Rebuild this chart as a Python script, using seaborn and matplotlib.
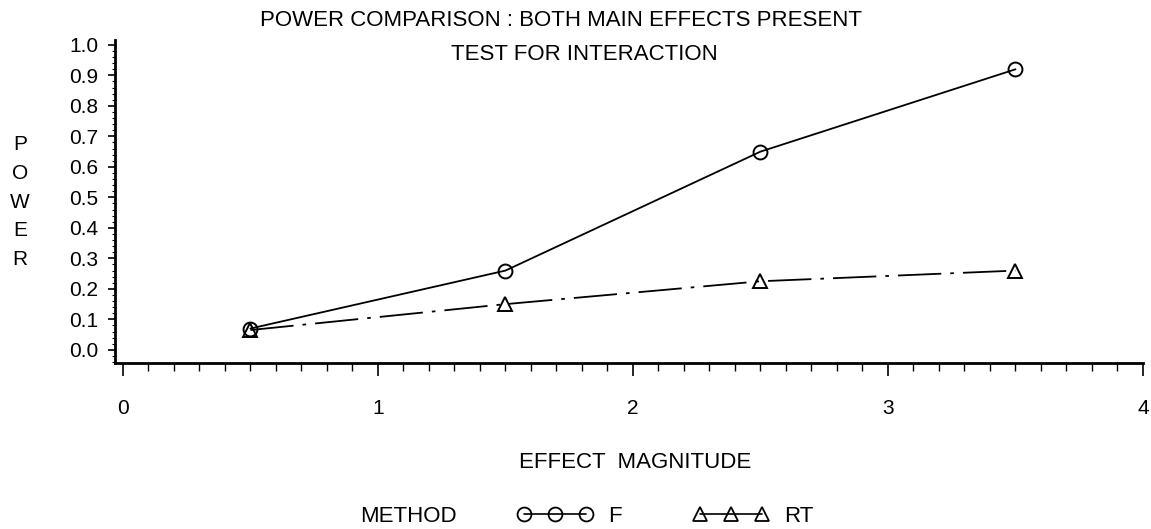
import matplotlib
matplotlib.use("Agg")
import matplotlib.pyplot as plt
from matplotlib.lines import Line2D
from matplotlib.ticker import MultipleLocator, FixedLocator
import numpy as np
import pandas as pd
import seaborn as sns

# ---- data ----
effect = [0.5, 1.5, 2.5, 3.5]
power_f = [0.07, 0.26, 0.65, 0.92]
power_rt = [0.065, 0.15, 0.225, 0.26]
methods = ["F", "RT"]
y_ticks = [0.0, 0.1, 0.2, 0.3, 0.4, 0.5, 0.6, 0.7, 0.8, 0.9, 1.0]
x_ticks = [0, 1, 2, 3, 4]

df = pd.DataFrame({
    "effect": effect * 2,
    "power": power_f + power_rt,
    "method": ["F"] * len(effect) + ["RT"] * len(effect),
})

sns.set_style("ticks")
plt.rcParams["font.family"] = ["Liberation Sans", "DejaVu Sans"]
plt.rcParams["text.color"] = "black"
plt.rcParams["axes.labelcolor"] = "black"
plt.rcParams["xtick.color"] = "black"
plt.rcParams["ytick.color"] = "black"

W, H = 1151, 529
fig = plt.figure(figsize=(W / 100, H / 100), dpi=100)
fig.patch.set_facecolor("white")

ax = fig.add_axes([115 / W, 166 / H, 1028 / W, 323 / H])
ax.set_facecolor("white")

rt_dash = (24, 5, 2, 5)
sns.lineplot(
    data=df, x="effect", y="power", style="method",
    markers={"F": "o", "RT": "^"},
    dashes={"F": "", "RT": rt_dash},
    color="black", linewidth=1.3, markersize=10,
    markerfacecolor="none", markeredgecolor="black", markeredgewidth=1.4,
    legend=False, ax=ax, sort=True, errorbar=None,
)

ax.set_xlim(-0.031, 4.0)
ax.set_ylim(-0.043, 1.016)
ax.set_xlabel("")
ax.set_ylabel("")

ax.spines["top"].set_visible(False)
ax.spines["right"].set_visible(False)
for s in ("left", "bottom"):
    ax.spines[s].set_linewidth(2.0)
    ax.spines[s].set_color("black")

ax.xaxis.set_major_locator(FixedLocator(x_ticks))
ax.xaxis.set_minor_locator(MultipleLocator(0.1))
ax.yaxis.set_major_locator(FixedLocator(y_ticks))
ax.yaxis.set_minor_locator(MultipleLocator(0.02))
ax.set_xticklabels([str(t) for t in x_ticks])
ax.set_yticklabels([f"{t:.1f}" for t in y_ticks])

ax.tick_params(axis="x", which="major", direction="out", length=9, width=1.2,
               pad=17, labelsize=15, colors="black")
ax.tick_params(axis="x", which="minor", direction="out", length=6, width=1.0,
               colors="black")
ax.tick_params(axis="y", which="major", direction="out", length=5, width=1.2,
               pad=7, labelsize=15, colors="black")
ax.tick_params(axis="y", which="minor", direction="out", length=2, width=0.8,
               colors="black")

# titles
fig.text(561 / W, 1 - 20 / H, "POWER COMPARISON : BOTH MAIN EFFECTS PRESENT",
         ha="center", va="center", fontsize=16, color="black")
fig.text(584 / W, 1 - 55 / H, "TEST FOR INTERACTION",
         ha="center", va="center", fontsize=16, color="black")

# vertical y label
fig.text(20 / W, 1 - 202 / H, "P\nO\nW\nE\nR", ha="center", va="center",
         fontsize=15, linespacing=1.65, color="black")

# x label
fig.text(635 / W, 1 - 462 / H, "EFFECT  MAGNITUDE", ha="center", va="center",
         fontsize=16, color="black")

# legend
fig.text(457 / W, 1 - 516 / H, "METHOD", ha="right", va="center", fontsize=16,
         color="black")
h_f = Line2D([], [], color="black", linestyle="-", linewidth=1.2, marker="o",
             markersize=10, markerfacecolor="none", markeredgecolor="black",
             markeredgewidth=1.3)
h_rt = Line2D([], [], color="black", linestyle="-", linewidth=1.2, marker="^",
              markersize=10, markerfacecolor="none", markeredgecolor="black",
              markeredgewidth=1.3)
leg = fig.legend(handles=[h_f, h_rt], labels=methods, loc="center left",
                 bbox_to_anchor=(517 / W, 1 - 516 / H), ncol=2, frameon=False,
                 numpoints=3, fontsize=16, handlelength=3.4, handletextpad=0.7,
                 columnspacing=3.2, borderpad=0, borderaxespad=0)
for t in leg.get_texts():
    t.set_color("black")

fig.savefig("out.png", dpi=100, facecolor="white")
